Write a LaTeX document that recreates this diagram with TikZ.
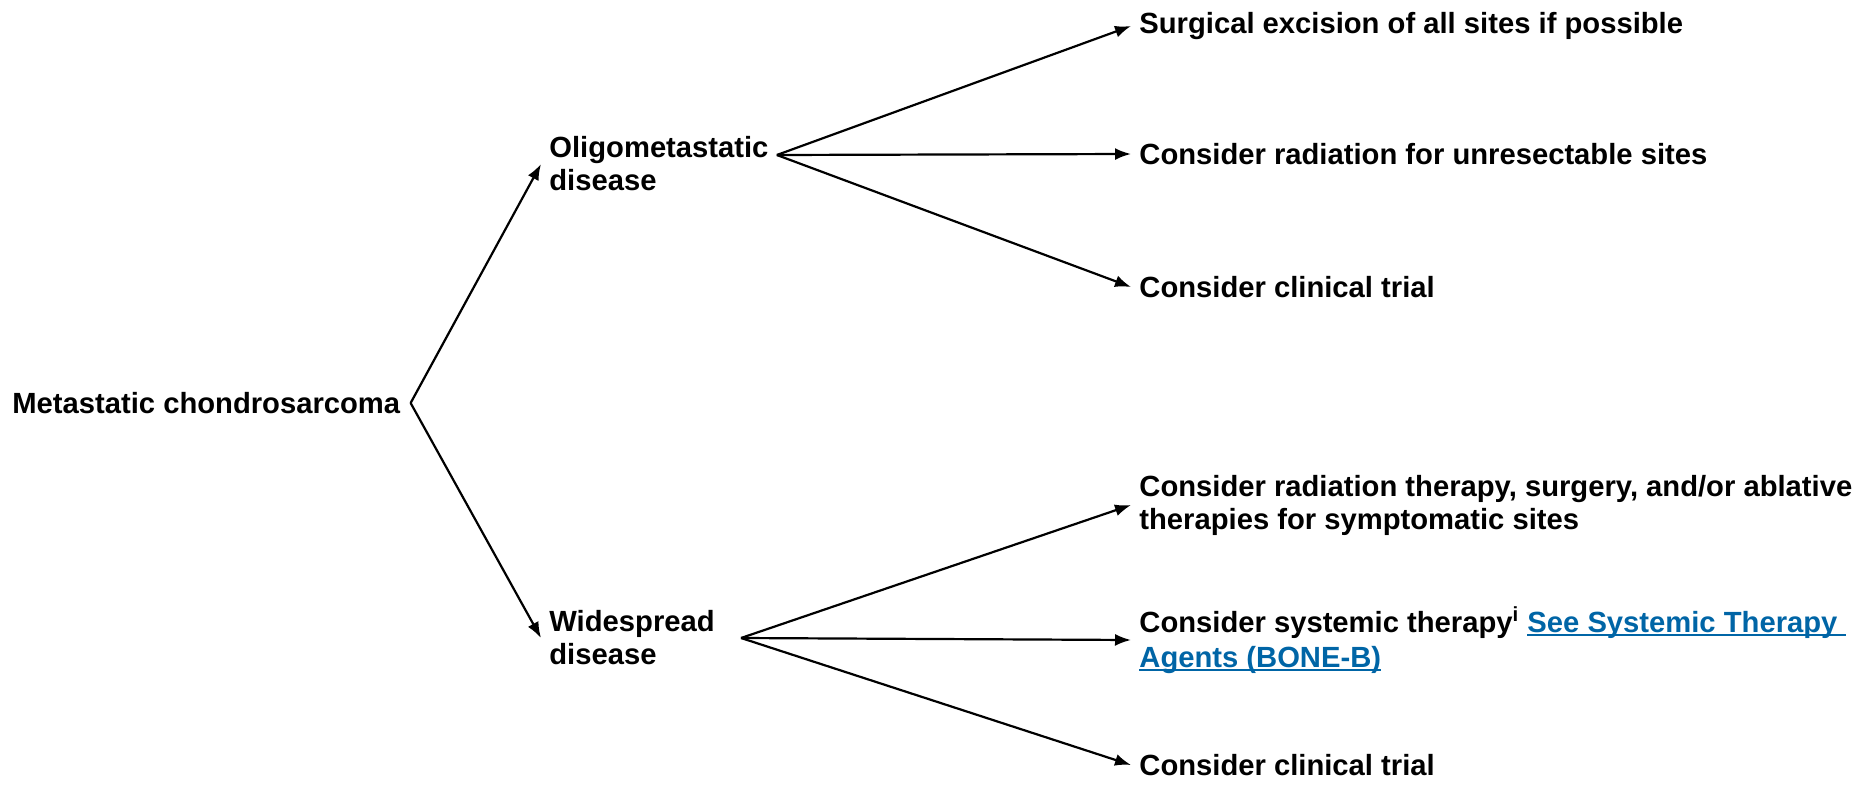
\documentclass[tikz,border=0pt]{standalone}
\usepackage{fontspec}
\setmainfont{Liberation Sans}
\usepackage{xcolor}
\usetikzlibrary{arrows.meta,positioning,calc}
\definecolor{linkblue}{RGB}{0,101,166}
\newcommand\linkul[1]{\setbox0\hbox{#1}\rlap{\rule[-2pt]{\wd0}{1pt}}\box0}
\tikzset{
	txt/.style={anchor=west,align=left,inner sep=4pt,font=\fontsize{14.6}{16.5}\selectfont\bfseries},
	arr/.style={-{Latex[length=8pt,width=6pt]},line width=1.1pt}
}
\begin{document}
\begin{tikzpicture}[x=0.5pt,y=-0.5pt]
	\useasboundingbox (0,0) rectangle (1872,791);
	% first level
	\node[txt] (root) at (4,403) {Metastatic chondrosarcoma};
	\node[txt] (oligo) at (541,164) {Oligometastatic\\disease};
	\node[txt] (wide) at (541,638) {Widespread\\disease};
	\coordinate (rfork) at ([xshift=1pt]root.east);
	\draw[arr] (rfork) -- (oligo.west);
	\draw[arr] (rfork) -- (wide.west);
	% oligometastatic
	\coordinate (ofork) at ([yshift=4.5pt]oligo.east);
	\node[txt] (excise) at (1131,26) {Surgical excision of all sites if possible};
	\node[txt] (radun) at (1131,154) {Consider radiation for unresectable sites};
	\node[txt] (trialo) at (1131,287) {Consider clinical trial};
	\draw[arr] (ofork) -- (excise.west);
	\draw[arr] (ofork) -- (radun.west);
	\draw[arr] (ofork) -- (trialo.west);
	% widespread
	\coordinate (wfork) at ([xshift=9pt]wide.east);
	\node[txt] (radsym) at (1131,505) {Consider radiation therapy, surgery, and/or ablative\\therapies for symptomatic sites};
	\node[txt] (systemic) at (1131,640) {Consider systemic therapy\textsuperscript{i} {\color{linkblue}\linkul{See Systemic Therapy\ }}\\[1pt]{\color{linkblue}\linkul{Agents (BONE-B)}}};
	\node[txt] (trialw) at (1131,765) {Consider clinical trial};
	\draw[arr] (wfork) -- (radsym.west);
	\draw[arr] (wfork) -- (systemic.west);
	\draw[arr] (wfork) -- (trialw.west);
\end{tikzpicture}
\end{document}
